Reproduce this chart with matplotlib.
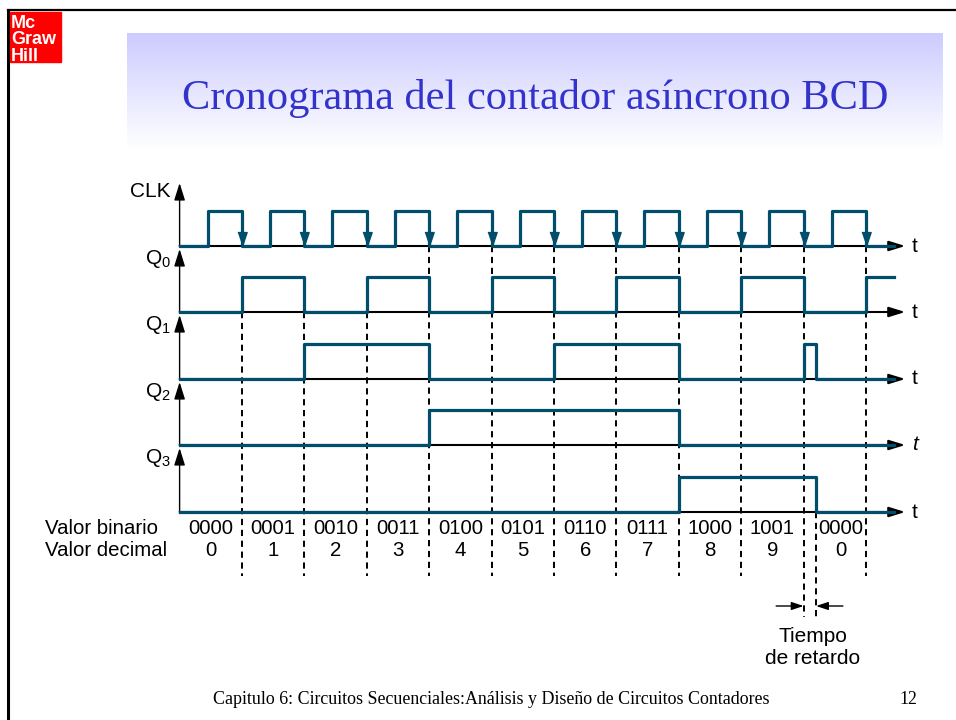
import numpy as np
import matplotlib.pyplot as plt
from matplotlib.patches import Rectangle

plt.rcParams['mathtext.fontset'] = 'custom'
plt.rcParams['mathtext.rm'] = 'Liberation Sans'
plt.rcParams['mathtext.it'] = 'Liberation Sans:italic'

# ---- data ----
clk_rise = [0.45, 1.45, 2.45, 3.45, 4.45, 5.45, 6.45, 7.45, 8.45, 9.45, 10.45]
clk_fall = [1, 2, 3, 4, 5, 6, 7, 8, 9, 10, 11]
t_end = 11.45

# counter state change times (state 1010 lasts only the reset delay)
state_t = [0, 1, 2, 3, 4, 5, 6, 7, 8, 9, 10, 10.2, 11]
q0 = [0, 1, 0, 1, 0, 1, 0, 1, 0, 1, 0, 0, 1]
q1 = [0, 0, 1, 1, 0, 0, 1, 1, 0, 0, 1, 0, 0]
q2 = [0, 0, 0, 0, 1, 1, 1, 1, 0, 0, 0, 0, 0]
q3 = [0, 0, 0, 0, 0, 0, 0, 0, 1, 1, 1, 0, 0]

valor_bin = ['0000', '0001', '0010', '0011', '0100', '0101', '0110', '0111', '1000', '1001', '0000']
valor_dec = ['0', '1', '2', '3', '4', '5', '6', '7', '8', '9', '0']
lab_t0 = [0, 1, 2, 3, 4, 5, 6, 7, 8, 9, 10.2]
lab_t1 = [1, 2, 3, 4, 5, 6, 7, 8, 9, 10, 11]
delay_t = 10.2

row_names = ['CLK', r'$\mathrm{Q_0}$', r'$\mathrm{Q_1}$', r'$\mathrm{Q_2}$', r'$\mathrm{Q_3}$']
t_labels = ['t', 't', 't', r'$\mathit{t}$', 't']

# ---- layout ----
W, H = 956, 720
base = [246, 312, 379, 445, 512]
hi = 35
teal = '#004e6c'
sans = 'Liberation Sans'
serif = 'Liberation Serif'

fig = plt.figure(figsize=(W / 100, H / 100), dpi=100)

# page decoration axes (pixel coords)
pg = fig.add_axes([0, 0, 1, 1])
pg.set_xlim(0, W)
pg.set_ylim(H, 0)
pg.axis('off')

grad = np.linspace(0, 1, 100)[:, None]
top = np.array([0.80, 0.80, 1.0])
img = top[None, None, :] * (1 - grad[..., None]) + np.ones(3)[None, None, :] * grad[..., None]
pg.imshow(img, extent=[127, 943, 150, 33], aspect='auto', zorder=0, interpolation='bilinear')

pg.plot([8, W], [10, 10], color='black', lw=1.6)
pg.plot([8, 8], [10, H], color='black', lw=2.2)
pg.add_patch(Rectangle((10, 12), 51, 50, color='#ff0000', zorder=2))
for s, yb in zip(['Mc', 'Graw', 'Hill'], [28, 44, 61]):
    pg.text(11, yb, s, color='white', fontsize=13, fontweight='bold', family=sans,
            va='baseline', ha='left', zorder=3)

pg.text(535, 109, 'Cronograma del contador asíncrono BCD', family=serif, fontsize=30.5,
        color='#3333cc', ha='center', va='baseline')
pg.text(213, 704, 'Capitulo 6: Circuitos Secuenciales:Análisis y Diseño de Circuitos Contadores',
        family=serif, fontsize=12.9, ha='left', va='baseline')
pg.text(917, 704, '12', family=serif, fontsize=12.9, ha='right', va='baseline')

# timing axes: x in clock periods, y in pixels
ax = fig.add_axes([0, 0, 1, 1])
ax.set_xlim(1 - 242 / 62.4, 1 + (W - 242) / 62.4)
ax.set_ylim(H, 0)
ax.axis('off')
ax.patch.set_alpha(0)

t_arrow = 11.63
for i, b in enumerate(base):
    # horizontal time axis
    ax.annotate('', xy=(t_arrow, b), xytext=(0, b),
                arrowprops=dict(arrowstyle='-|>,head_length=0.65,head_width=0.2',
                                color='black', lw=1.5, shrinkA=0, shrinkB=0, mutation_scale=15),
                zorder=1)
    ax.text(t_arrow + 0.1, b, t_labels[i], family=sans, fontsize=15, ha='left', va='center')
    # vertical axis
    tip = 183 if i == 0 else base[i - 1] + 3
    ax.annotate('', xy=(0, tip), xytext=(0, b),
                arrowprops=dict(arrowstyle='-|>,head_length=0.7,head_width=0.22',
                                color='black', lw=1.0, shrinkA=0, shrinkB=0, mutation_scale=15),
                zorder=1)
    yl = 197 if i == 0 else base[i - 1] + 18
    ax.text(-0.14, yl, row_names[i], family=sans, fontsize=15, ha='right', va='baseline')

# clock
clk_t = [0] + sorted(clk_rise + clk_fall)
clk_v = [0] + [1, 0] * len(clk_fall)
ax.step(clk_t + [t_end], [base[0] - hi * v for v in clk_v + [clk_v[-1]]],
        where='post', color=teal, lw=2.3, zorder=3)
arrow_head = [(-1, 1.5), (1, 1.5), (0, -1.5)]
ax.plot(clk_fall, [base[0] - 7] * len(clk_fall), ls='none', marker=arrow_head,
        markersize=10, color=teal, zorder=4)

# outputs
for q, b in zip([q0, q1, q2, q3], base[1:]):
    ax.step(state_t + [t_end], [b - hi * v for v in q + [q[-1]]],
            where='post', color=teal, lw=2.3, zorder=3)

# dashed guide lines
for t in clk_fall:
    y0 = base[1] if t <= 3 else base[0]
    y1 = 617 if t == delay_t - 0.2 else 576
    ax.plot([t, t], [y0, y1], color='black', lw=1.4, ls=(0, (3.2, 2.4)), zorder=2)
ax.plot([delay_t, delay_t], [base[4], 620], color='black', lw=1.4, ls=(0, (3.2, 2.4)), zorder=2)

# values under the diagram
ax.text(-2.15, 529, 'Valor binario', family=sans, fontsize=14.7, ha='left', va='center')
ax.text(-2.15, 551, 'Valor decimal', family=sans, fontsize=14.7, ha='left', va='center')
for a, c, sb, sd in zip(lab_t0, lab_t1, valor_bin, valor_dec):
    ax.text((a + c) / 2, 529, sb, family=sans, fontsize=14.7, ha='center', va='center')
    ax.text((a + c) / 2, 551, sd, family=sans, fontsize=14.7, ha='center', va='center')

# propagation delay marker
for x0, x1 in [(9.56, 10.0), (10.63, delay_t)]:
    ax.annotate('', xy=(x1, 606), xytext=(x0, 606),
                arrowprops=dict(arrowstyle='-|>,head_length=0.6,head_width=0.2',
                                color='black', lw=1.0, shrinkA=0, shrinkB=0, mutation_scale=12))
ax.text(10.15, 637, 'Tiempo', family=sans, fontsize=15, ha='center', va='center')
ax.text(10.15, 658, 'de retardo', family=sans, fontsize=15, ha='center', va='center')

fig.savefig('out.png', dpi=100)
